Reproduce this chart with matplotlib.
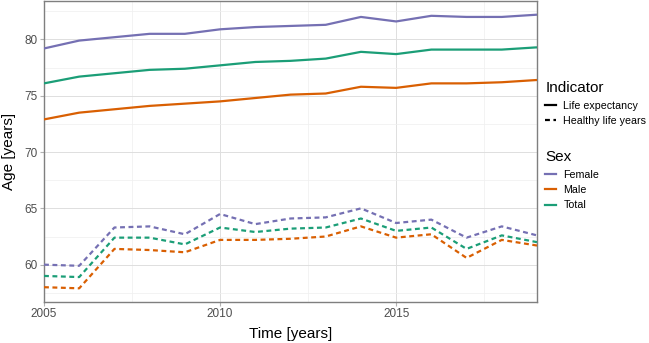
import matplotlib
matplotlib.use("Agg")
import matplotlib.pyplot as plt
from matplotlib.lines import Line2D
from matplotlib.ticker import MultipleLocator

plt.rcParams['font.family'] = ['Liberation Sans', 'DejaVu Sans']

# Years and values
years = list(range(2005, 2020))

le_female = [79.2, 79.9, 80.2, 80.5, 80.5, 80.9, 81.1, 81.2, 81.3, 82.0, 81.6, 82.1, 82.0, 82.0, 82.2]
le_male = [72.9, 73.5, 73.8, 74.1, 74.3, 74.5, 74.8, 75.1, 75.2, 75.8, 75.7, 76.1, 76.1, 76.2, 76.4]
le_total = [76.1, 76.7, 77.0, 77.3, 77.4, 77.7, 78.0, 78.1, 78.3, 78.9, 78.7, 79.1, 79.1, 79.1, 79.3]

hly_female = [60.0, 59.9, 63.3, 63.4, 62.7, 64.5, 63.6, 64.1, 64.2, 65.0, 63.7, 64.0, 62.4, 63.4, 62.6]
hly_male = [58.0, 57.9, 61.4, 61.3, 61.1, 62.2, 62.2, 62.3, 62.5, 63.4, 62.4, 62.7, 60.6, 62.2, 61.7]
hly_total = [59.0, 58.9, 62.4, 62.4, 61.8, 63.3, 62.9, 63.2, 63.3, 64.1, 63.0, 63.3, 61.4, 62.6, 62.0]

sexes = ['Female', 'Male', 'Total']
colors = {'Female': '#7570B3', 'Male': '#D95F02', 'Total': '#1B9E77'}
le = {'Female': le_female, 'Male': le_male, 'Total': le_total}
hly = {'Female': hly_female, 'Male': hly_male, 'Total': hly_total}

fig = plt.figure(figsize=(6.49, 3.43), dpi=100)
ax = fig.add_axes([44 / 649, 1 - 302 / 343, (537 - 44) / 649, 301 / 343])

for s in sexes:
    ax.plot(years, le[s], color=colors[s], lw=1.6, solid_capstyle='butt', zorder=3)
    ax.plot(years, hly[s], color=colors[s], lw=1.6, ls=(0, (2.2, 1.6)), zorder=3)

# ggplot-like expansion of the y range
lo = min(min(v) for v in hly.values())
hi = max(max(v) for v in le.values())
pad = (hi - lo) * 0.05
ax.set_ylim(lo - pad, hi + pad)
ax.set_xlim(2005, 2019)

ax.xaxis.set_major_locator(MultipleLocator(5))
ax.xaxis.set_minor_locator(MultipleLocator(2.5))
ax.yaxis.set_major_locator(MultipleLocator(5))
ax.yaxis.set_minor_locator(MultipleLocator(2.5))
ax.grid(which='major', color='#dedede', lw=0.7)
ax.grid(which='minor', color='#efefef', lw=0.5)
ax.set_axisbelow(True)

for sp in ax.spines.values():
    sp.set_color('#7f7f7f')
    sp.set_linewidth(1.0)

ax.tick_params(which='major', length=3, color='#b3b3b3', labelsize=8.5, labelcolor='#4d4d4d', pad=1.5)
ax.tick_params(which='minor', length=0)

ax.set_xlabel('Time [years]', fontsize=11, labelpad=5)
ax.set_ylabel('Age [years]', fontsize=11, labelpad=6)

# Legends
ind_handles = [Line2D([], [], color='black', lw=1.6),
               Line2D([], [], color='black', lw=1.6, ls=(0, (2.2, 1.6)))]
leg1 = fig.legend(ind_handles, ['Life expectancy', 'Healthy life years'], title='Indicator',
                  loc='upper left', bbox_to_anchor=(541 / 649, 1 - 77 / 343), frameon=False,
                  handlelength=1.0, handletextpad=0.7, labelspacing=0.5, fontsize=7.7,
                  title_fontsize=11, borderaxespad=0)
leg1._legend_box.align = 'left'

sex_handles = [Line2D([], [], color=colors[s], lw=1.6) for s in sexes]
leg2 = fig.legend(sex_handles, sexes, title='Sex',
                  loc='upper left', bbox_to_anchor=(541 / 649, 1 - 146 / 343), frameon=False,
                  handlelength=1.0, handletextpad=0.7, labelspacing=0.5, fontsize=7.7,
                  title_fontsize=11, borderaxespad=0)
leg2._legend_box.align = 'left'

fig.savefig('out.png', dpi=100)
